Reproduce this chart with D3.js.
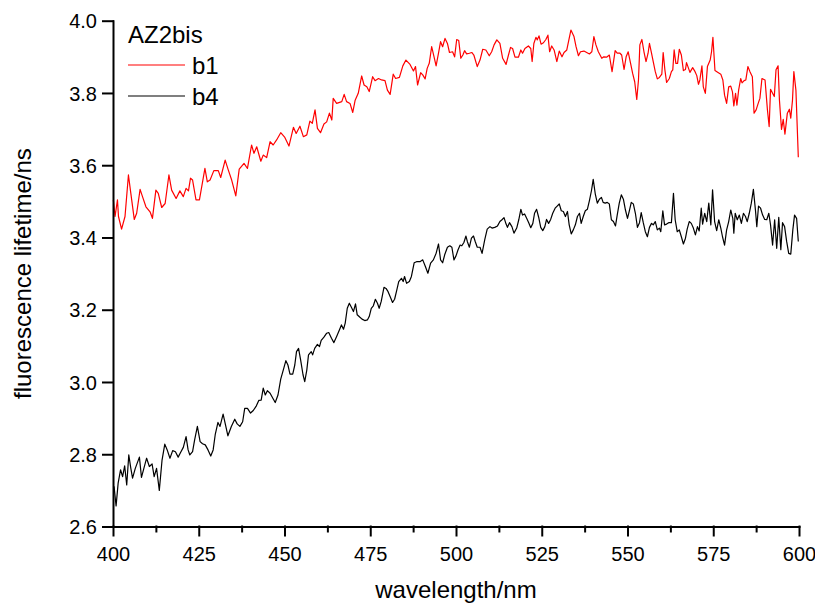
<!DOCTYPE html>
<html><head><meta charset="utf-8">
<script src="https://cdn.jsdelivr.net/npm/d3@7"></script>
<style>body{margin:0;background:#fff}svg{display:block}text{font-family:"Liberation Sans",Arial,Helvetica,sans-serif}</style>
</head><body><svg id="chart" width="815" height="603"></svg>
<script>
// ---- data (wavelength nm, lifetime ns) ----
const b1Points = [
[400.1,3.504],[400.6,3.458],[401.3,3.504],[401.6,3.458],[402.5,3.423],[403.5,3.458],[404.5,3.573],[405.2,3.522],[406.2,3.450],[406.9,3.467],
[407.9,3.533],[408.6,3.513],[409.6,3.485],[410.8,3.471],[411.5,3.453],[412.5,3.531],[413.2,3.522],[414.2,3.483],[415.2,3.494],[416.3,3.573],
[417.1,3.531],[418.4,3.508],[419.5,3.529],[420.5,3.513],[421.3,3.536],[422.0,3.529],[422.6,3.564],[423.2,3.559],[424.2,3.504],[425.2,3.504],
[426.8,3.591],[427.5,3.554],[428.3,3.559],[429.4,3.585],[430.7,3.585],[431.4,3.566],[432.7,3.614],[433.6,3.587],[434.6,3.559],[435.8,3.515],
[436.8,3.589],[438.2,3.605],[439.2,3.591],[440.4,3.656],[441.1,3.633],[441.9,3.651],[443.1,3.611],[443.8,3.628],[444.8,3.621],[445.8,3.665],
[446.7,3.656],[447.7,3.670],[448.9,3.690],[450.1,3.677],[451.3,3.653],[452.6,3.705],[453.4,3.688],[454.5,3.708],[455.5,3.679],[456.5,3.684],
[457.4,3.722],[458.1,3.716],[458.9,3.753],[459.6,3.702],[460.5,3.690],[461.5,3.714],[462.3,3.720],[463.1,3.744],
[463.8,3.725],[464.2,3.785],[465.2,3.771],[466.7,3.776],[467.4,3.796],[468.1,3.776],[469.1,3.771],[469.9,3.746],[470.6,3.780],[471.5,3.799],
[472.5,3.847],[473.2,3.822],[474.0,3.817],[474.7,3.804],[475.7,3.845],[476.4,3.834],[477.4,3.840],[478.3,3.836],[479.3,3.834],[480.0,3.808],
[480.8,3.796],[481.7,3.852],[482.4,3.840],[483.5,3.843],[484.5,3.875],[485.4,3.891],[486.6,3.879],[487.6,3.861],[488.2,3.873],[488.8,3.822],
[489.7,3.856],[490.3,3.850],[491.0,3.839],[491.6,3.868],[492.2,3.882],[492.9,3.928],[493.6,3.900],[494.2,3.875],[494.9,3.910],[495.5,3.942],
[496.1,3.928],[496.8,3.951],[497.5,3.937],[498.1,3.912],
[499.0,3.914],[499.6,3.900],[500.2,3.948],[500.8,3.945],[501.4,3.896],[502.0,3.905],[502.5,3.917],[503.1,3.908],[503.9,3.910],[504.6,3.912],
[505.2,3.905],[506.2,3.873],[507.0,3.891],[507.8,3.921],[508.7,3.919],[509.7,3.903],[510.4,3.914],[511.1,3.933],[511.9,3.947],[512.8,3.937],
[513.6,3.896],[514.6,3.879],[515.3,3.905],[515.9,3.926],[516.5,3.923],[517.2,3.899],[518.2,3.899],[518.9,3.919],[519.4,3.910],[520.1,3.923],
[521.1,3.930],[521.8,3.923],[522.2,3.887],[522.7,3.937],[523.3,3.954],[523.7,3.947],[524.2,3.958],[524.8,3.935],[525.5,3.939],[526.2,3.948],
[526.8,3.960],[527.3,3.914],[527.9,3.930],[528.6,3.919],[529.4,3.887],[530.1,3.916],[530.9,3.900],[531.5,3.912],[532.3,3.919],[532.8,3.942],
[533.5,3.974],[534.4,3.956],[535.0,3.928],[535.7,3.903],[536.3,3.914],[537.3,3.916],[538.1,3.912],[538.9,3.908],[539.6,3.914],[540.2,3.956],
[540.8,3.933],[541.5,3.914],[542.5,3.896],[543.1,3.900],[543.9,3.899],[544.7,3.905],[545.5,3.859],[546.4,3.917],[547.0,3.910],[547.8,3.910],
[548.3,3.905],[549.0,3.865],[549.6,3.900],[550.2,3.914],[550.9,3.882],[551.5,3.854],[552.1,3.831],[552.7,3.782],[553.2,3.836],[553.6,3.933],
[554.2,3.948],[554.8,3.914],[555.4,3.887],[556.0,3.910],[556.4,3.937],[557.0,3.910],[557.5,3.887],[558.1,3.859],[558.7,3.839],[559.3,3.843],
[560.0,3.852],[560.4,3.912],[560.9,3.864],[561.4,3.829],[562.2,3.840],[562.8,3.859],[563.2,3.864],[563.6,3.919],[564.1,3.882],[564.6,3.882],
[565.1,3.921],[565.7,3.905],[566.3,3.862],[566.9,3.865],[567.2,3.884],[567.8,3.868],[568.2,3.857],[569.0,3.870],[569.7,3.859],[570.2,3.848],
[570.7,3.824],[571.1,3.836],[571.7,3.875],[572.1,3.817],[572.7,3.799],[573.3,3.873],[574.1,3.891],[574.5,3.914],[574.9,3.954],[575.5,3.862],
[576.5,3.856],[577.2,3.852],[577.8,3.836],[578.3,3.794],[578.9,3.771],[579.5,3.817],[580.1,3.819],[580.6,3.803],[581.0,3.764],[581.5,3.799],
[581.9,3.766],[582.4,3.808],[583.0,3.840],[583.4,3.828],[584.0,3.834],[584.5,3.836],[585.1,3.873],[585.7,3.859],[586.4,3.845],[586.9,3.744],
[587.5,3.753],[588.1,3.771],[588.6,3.785],[589.2,3.840],[590.1,3.836],[590.8,3.753],[591.3,3.707],[591.7,3.810],[592.3,3.799],[592.8,3.790],
[593.3,3.864],[593.9,3.875],[594.3,3.780],[594.9,3.699],[595.4,3.727],[595.9,3.686],[596.6,3.744],[597.2,3.755],[597.6,3.730],[598.1,3.780],
[598.5,3.859],[599.1,3.808],[599.8,3.622]
];
const b4Points = [
[400.3,2.711],[400.9,2.657],[401.5,2.720],[402.2,2.757],[402.8,2.738],[403.4,2.768],[404.0,2.715],[404.6,2.798],[405.2,2.761],[405.7,2.734],
[406.5,2.761],[407.7,2.792],[408.3,2.736],[409.0,2.761],[409.8,2.789],[410.6,2.766],[411.4,2.773],[412.0,2.738],[412.7,2.761],[413.5,2.700],
[414.3,2.784],[415.1,2.828],[415.8,2.812],[416.6,2.789],[417.4,2.810],[418.2,2.807],[419.0,2.792],[419.7,2.805],[420.5,2.819],[421.3,2.849],
[421.9,2.812],[422.4,2.798],[423.2,2.807],[423.8,2.840],[424.6,2.877],[425.4,2.835],[426.1,2.829],[426.9,2.826],[427.7,2.812],[428.5,2.795],
[429.2,2.812],[429.8,2.854],[430.6,2.888],[431.2,2.877],[432.1,2.911],[432.8,2.881],[433.5,2.851],[434.5,2.877],[435.5,2.897],[436.2,2.884],
[437.0,2.877],[437.8,2.890],[438.4,2.927],[439.2,2.927],[440.1,2.914],[440.9,2.921],[441.8,2.934],[442.5,2.949],[443.2,2.950],[443.8,2.983],
[444.4,2.964],[445.0,2.976],[445.8,2.969],[446.6,2.955],[447.3,2.943],[448.1,2.964],[448.9,3.008],[449.7,3.035],[450.4,3.059],[451.0,3.047],
[451.6,3.022],[452.4,3.022],[453.0,3.047],[453.5,3.084],[454.1,3.093],[454.7,3.061],[455.4,3.020],[455.9,3.001],[456.5,3.033],[457.0,3.075],
[457.8,3.084],[458.2,3.075],[458.8,3.093],[459.6,3.104],[460.2,3.098],[460.7,3.115],[461.5,3.124],[462.3,3.135],[462.9,3.137],[463.7,3.121],
[464.4,3.109],[465.2,3.126],[466.0,3.144],[466.6,3.158],[467.2,3.146],[467.7,3.163],[468.3,3.204],[468.9,3.218],[469.5,3.207],[470.1,3.195],
[470.7,3.216],[471.2,3.186],[472.0,3.179],[472.6,3.174],[473.4,3.170],[474.2,3.172],[474.7,3.181],[475.3,3.204],[475.9,3.211],[476.5,3.229],
[477.1,3.218],[477.6,3.204],[478.2,3.223],[479.0,3.262],[479.6,3.259],[480.2,3.250],[481.0,3.232],[481.5,3.220],[482.1,3.229],[482.7,3.253],
[483.3,3.278],[484.1,3.287],[484.6,3.278],[485.0,3.292],[485.6,3.273],[486.4,3.278],[487.0,3.292],[487.8,3.330],[488.5,3.333],[489.5,3.333],
[490.3,3.338],[491.1,3.319],[491.8,3.301],[492.6,3.329],[493.4,3.338],[494.2,3.356],[494.9,3.382],[495.5,3.338],[496.1,3.330],[496.7,3.352],
[497.5,3.373],[498.2,3.377],
[498.8,3.373],[499.4,3.338],[500.0,3.349],[500.6,3.366],[501.2,3.379],[501.7,3.377],[502.3,3.386],[502.9,3.404],[503.3,3.389],[503.9,3.373],
[504.5,3.398],[505.1,3.404],[505.6,3.389],[506.2,3.373],[507.0,3.373],[507.6,3.356],[508.4,3.395],[509.1,3.423],[509.9,3.430],[510.5,3.426],
[511.3,3.428],[512.1,3.432],[512.8,3.444],[513.4,3.449],[514.0,3.455],[514.6,3.437],[515.0,3.428],[515.6,3.441],[516.3,3.430],[516.9,3.412],
[517.7,3.426],[518.3,3.449],[518.9,3.478],[519.4,3.462],[520.0,3.465],[520.6,3.453],[521.2,3.441],[521.8,3.427],[522.4,3.439],[522.9,3.467],
[523.5,3.478],[524.1,3.456],[524.7,3.428],[525.3,3.419],[525.9,3.430],[526.4,3.450],[527.0,3.439],[527.6,3.450],[528.2,3.467],[528.9,3.481],
[529.5,3.487],[530.1,3.493],[530.7,3.474],[531.3,3.472],[531.9,3.458],[532.5,3.472],[533.0,3.435],[533.6,3.410],[534.2,3.421],[534.8,3.435],
[535.4,3.458],[536.0,3.467],[536.5,3.439],[537.1,3.458],[537.7,3.474],[538.3,3.478],[538.9,3.502],[539.5,3.530],[540.0,3.561],[540.6,3.521],
[541.2,3.495],[541.8,3.506],[542.4,3.511],[542.9,3.497],[543.5,3.495],[544.1,3.497],[544.7,3.493],[545.3,3.449],[545.9,3.444],[546.5,3.432],
[547.0,3.462],[547.6,3.495],[548.2,3.518],[548.8,3.506],[549.4,3.476],[550.0,3.453],[550.5,3.472],[551.1,3.497],[551.7,3.493],[552.3,3.467],
[552.9,3.428],[553.5,3.441],[554.0,3.469],[554.6,3.441],[555.2,3.416],[555.8,3.402],[556.4,3.428],[557.0,3.439],[557.5,3.435],[558.1,3.444],
[558.7,3.421],[559.3,3.426],[559.7,3.416],[560.3,3.474],[560.8,3.435],[561.4,3.437],[562.0,3.441],[562.8,3.441],[563.4,3.522],[563.9,3.449],
[564.5,3.416],[565.1,3.421],[565.7,3.402],[566.3,3.382],[566.9,3.398],[567.4,3.423],[568.0,3.444],[568.6,3.439],[569.2,3.426],[569.8,3.407],
[570.4,3.430],[570.9,3.418],[571.5,3.481],[571.9,3.437],[572.5,3.467],[573.1,3.444],[573.7,3.495],[574.3,3.435],[574.8,3.532],[575.4,3.444],
[576.0,3.419],[576.6,3.449],[577.2,3.426],[577.7,3.402],[578.3,3.379],[578.9,3.421],[579.5,3.444],[580.1,3.476],[580.7,3.453],[581.0,3.412],
[581.4,3.467],[582.0,3.449],[582.6,3.462],[583.2,3.439],[583.8,3.467],[584.4,3.458],[584.9,3.444],[585.5,3.467],[586.1,3.495],[586.7,3.533],
[587.3,3.476],[587.7,3.430],[588.2,3.487],[588.8,3.481],[589.4,3.462],[590.0,3.450],[590.6,3.449],[591.2,3.467],[591.7,3.435],[592.3,3.379],
[592.9,3.449],[593.5,3.370],[594.1,3.456],[594.7,3.366],[595.2,3.441],[595.8,3.430],[596.4,3.389],[597.0,3.356],[597.6,3.354],[598.2,3.421],
[598.7,3.462],[599.3,3.453],[599.8,3.389]
];
const xTicks = [400, 425, 450, 475, 500, 525, 550, 575, 600];
const xMinorTicks = [412.5, 437.5, 462.5, 487.5, 512.5, 537.5, 562.5, 587.5];
const yTicks = [2.6, 2.8, 3.0, 3.2, 3.4, 3.6, 3.8, 4.0];
const seriesNames = ["b1", "b4"];
const seriesColors = ["#ff0000", "#000000"];
const legendTitle = "AZ2bis";
const xTitle = "wavelength/nm";
const yTitle = "fluorescence lifetime/ns";

// ---- layout ----
const svg = d3.select("#chart");
const x = d3.scaleLinear().domain([400, 600]).range([113, 799]);
const y = d3.scaleLinear().domain([2.6, 4.0]).range([526.5, 20.7]);

const line = d3.line().x(d => x(d[0])).y(d => y(d[1]));
const series = [b1Points, b4Points];

series.forEach((pts, i) => {
  svg.append("path").datum(pts)
    .attr("d", line)
    .attr("fill", "none")
    .attr("stroke", seriesColors[i])
    .attr("stroke-width", 1.2)
    .attr("stroke-linejoin", "round");
});

// x axis
const xAxis = svg.append("g").attr("transform", `translate(0,${y(2.6)})`)
  .call(d3.axisBottom(x).tickValues(xTicks).tickSize(9).tickSizeOuter(0).tickFormat(d3.format("d")));
svg.append("g").attr("transform", `translate(0,${y(2.6)})`)
  .call(d3.axisBottom(x).tickValues(xMinorTicks).tickSize(5).tickSizeOuter(0).tickFormat(""))
  .call(g => g.select(".domain").remove());
// y axis
const yAxis = svg.append("g").attr("transform", `translate(${x(400)},0)`)
  .call(d3.axisLeft(y).tickValues(yTicks).tickSize(10).tickSizeOuter(0).tickFormat(d3.format(".1f")));

svg.selectAll(".domain, .tick line").attr("stroke", "#000").attr("stroke-width", 2).attr("stroke-linecap", "square");
xAxis.selectAll("text").attr("y", 34.5).attr("dy", 0)
  .attr("font-size", 20).attr("font-family", "Liberation Sans, Arial, sans-serif").attr("fill", "#000");
yAxis.selectAll("text").attr("x", -16).attr("dy", "0.36em")
  .attr("font-size", 20).attr("font-family", "Liberation Sans, Arial, sans-serif").attr("fill", "#000");

// axis titles
svg.append("text").attr("x", (x(400) + x(600)) / 2).attr("y", 598)
  .attr("text-anchor", "middle").attr("font-size", 24).text(xTitle);
svg.append("text").attr("transform", `translate(31,${(y(2.6) + y(4.0)) / 2}) rotate(-90)`)
  .attr("text-anchor", "middle").attr("font-size", 24).text(yTitle);

// legend
const leg = svg.append("g");
leg.append("text").attr("x", 128).attr("y", 43).attr("font-size", 24).text(legendTitle);
seriesNames.forEach((name, i) => {
  const ly = 65 + i * 31;
  leg.append("line").attr("x1", 128).attr("x2", 185).attr("y1", ly).attr("y2", ly)
    .attr("stroke", seriesColors[i]).attr("stroke-width", 1.2);
  leg.append("text").attr("x", 192).attr("y", ly + 8.5).attr("font-size", 24).text(name);
});
</script></body></html>
